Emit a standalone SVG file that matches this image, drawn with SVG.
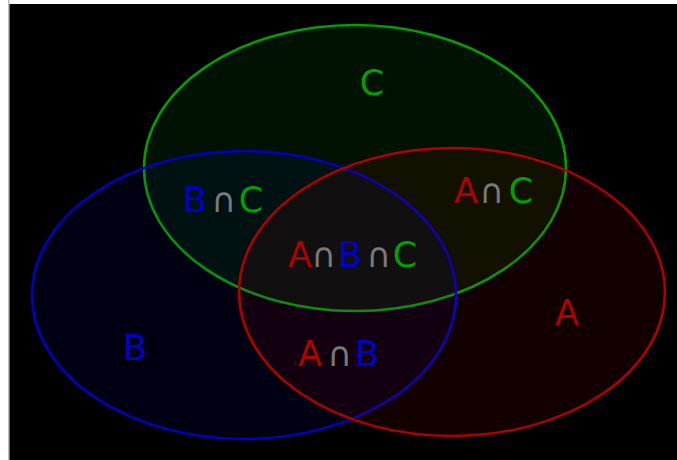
<svg xmlns="http://www.w3.org/2000/svg" width="677" height="460" viewBox="0 0 677 460">
<style>
.lbl{font-family:"DejaVu Sans","Liberation Sans",sans-serif;font-size:35px;text-anchor:middle}
.cap{font-family:"DejaVu Sans","Liberation Sans",sans-serif;font-size:34px;text-anchor:middle;fill:#7a7a7a}
.r{fill:#b00000}.g{fill:#00a000}.b{fill:#0000c8}
</style>
<rect x="0" y="0" width="677" height="460" fill="#ffffff"/>
<rect x="8" y="0" width="1.5" height="460" fill="#bbbbbb"/>
<rect x="9.5" y="4" width="667.5" height="456" fill="#000000"/>
<g id="C">
<ellipse cx="355" cy="168" rx="211" ry="143" fill="#10ff00" fill-opacity="0.075" stroke="#00a000" stroke-width="2.5"/>
<text class="lbl g" x="372" y="95">C</text>
</g>
<g id="B">
<ellipse cx="244" cy="295" rx="212" ry="144" fill="#0000ff" fill-opacity="0.07" stroke="#0000c8" stroke-width="2.5"/>
<text class="lbl b" x="135" y="360">B</text>
</g>
<g id="A">
<ellipse cx="452" cy="292" rx="213" ry="144" fill="#ff0000" fill-opacity="0.07" stroke="#b00000" stroke-width="2.5"/>
<text class="lbl r" x="567" y="325">A</text>
</g>
<g id="BC">
<text class="lbl b" x="195" y="212">B</text>
<text class="cap" x="224" y="212">∩</text>
<text class="lbl g" x="251" y="212">C</text>
</g>
<g id="AC">
<text class="lbl r" x="466" y="203">A</text>
<text class="cap" x="492" y="203">∩</text>
<text class="lbl g" x="521" y="203">C</text>
</g>
<g id="AB">
<text class="lbl r" x="310" y="366">A</text>
<text class="cap" x="340" y="366">∩</text>
<text class="lbl b" x="367" y="366">B</text>
</g>
<g id="ABC">
<text class="lbl r" x="300" y="267">A</text>
<text class="cap" x="324" y="267">∩</text>
<text class="lbl b" x="350" y="267">B</text>
<text class="cap" x="379" y="267">∩</text>
<text class="lbl g" x="405" y="267">C</text>
</g>
<g id="connectors"/>
</svg>
